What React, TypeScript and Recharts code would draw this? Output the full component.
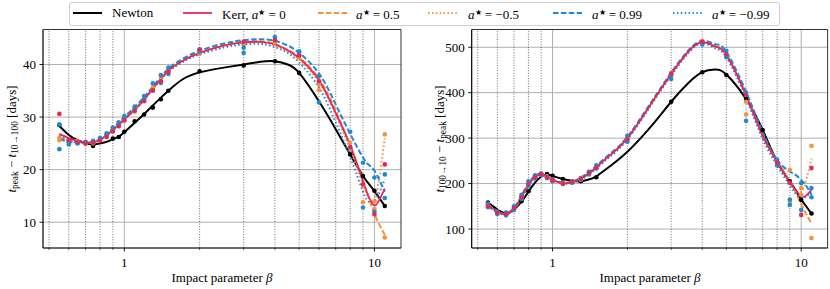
import React from "react"
import { ComposedChart, Line, Scatter, XAxis, YAxis, CartesianGrid, ReferenceLine } from "recharts"

// knots of the fitted curves (impact parameter beta)
const knotBeta = [0.55, 0.6, 0.65, 0.7, 0.75, 0.8, 0.85, 0.9, 0.95, 1.0, 1.1, 1.2, 1.3, 1.4, 1.5, 1.7, 2.0, 2.5, 3.0, 3.5, 4.0, 4.5, 5.0, 6.0, 7.0, 8.0, 9.0, 9.5, 10, 10.5, 11]
// beta of the simulated points (Kerr runs)
const pointBeta = [0.55, 0.6, 0.65, 0.7, 0.75, 0.8, 0.85, 0.9, 0.95, 1.0, 1.1, 1.2, 1.3, 1.4, 1.5, 2.0, 3.0, 4.0, 5.0, 6.0, 8.0, 9.0, 10, 11]
const newtonBetaL = [0.55, 0.75, 0.9, 0.95, 1.0, 1.1, 1.2, 1.3, 1.4, 1.5, 2.0, 3.0, 4.0, 5.0, 8.0, 9.0, 10, 11]
const newtonBetaR = [0.55, 0.65, 0.75, 0.8, 0.95, 1.0, 1.1, 1.3, 1.5, 3.0, 4.0, 5.0, 6.0, 7.0, 8.0, 9.0, 10, 11]

// left panel: t_peak - t_10->100 [days]
const riseNewtonLine = [28.3, 26.6, 25.6, 25.0, 24.8, 25.0, 25.3, 25.8, 26.3, 27.1, 28.9, 30.6, 32.2, 33.7, 35.0, 37.1, 38.5, 39.4, 40.0, 40.5, 40.6, 40.0, 38.4, 33.0, 27.7, 22.9, 18.8, 17.3, 15.9, 14.5, 13.1]
const riseKerr0Line = [26.8, 26.0, 25.5, 25.2, 25.2, 25.7, 26.5, 27.5, 28.5, 29.5, 31.4, 33.3, 35.4, 37.2, 38.8, 40.6, 42.2, 43.6, 44.2, 44.3, 43.8, 42.7, 41.2, 37.0, 30.8, 24.6, 17.8, 14.8, 13.2, 14.4, 16.4]
const riseKerrP05Line = [26.0, 25.6, 25.3, 25.1, 25.2, 25.7, 26.5, 27.5, 28.6, 29.6, 31.5, 33.4, 35.5, 37.3, 38.9, 40.7, 42.3, 43.7, 44.3, 44.4, 43.9, 42.8, 41.4, 37.3, 31.2, 24.6, 17.8, 14.5, 11.6, 9.4, 7.6]
const riseKerrM05Line = [26.4, 25.8, 25.4, 25.2, 25.2, 25.6, 26.4, 27.4, 28.4, 29.4, 31.3, 33.2, 35.3, 37.1, 38.7, 40.5, 42.1, 43.5, 44.1, 44.2, 43.6, 42.5, 41.0, 36.6, 30.4, 23.8, 17.2, 14.6, 14.2, 19.0, 26.0]
const riseKerrP99Line = [25.8, 25.3, 25.0, 25.0, 25.2, 25.8, 26.7, 27.8, 28.9, 30.0, 31.9, 33.8, 35.8, 37.6, 39.2, 41.0, 42.6, 44.0, 44.6, 44.8, 44.5, 43.6, 42.2, 38.3, 32.4, 26.8, 22.3, 20.9, 19.8, 17.9, 15.8]
const riseKerrM99Line = [26.5, 25.6, 25.2, 25.1, 25.3, 25.8, 26.6, 27.6, 28.6, 29.6, 31.5, 33.4, 35.4, 37.2, 38.7, 40.4, 41.9, 43.2, 43.8, 43.9, 43.3, 42.2, 40.4, 35.6, 29.0, 22.4, 15.8, 13.9, 14.0, 15.8, 18.2]

const riseNewtonPts = [28.5, 24.5, 25.9, 26.2, 27.2, 29.2, 30.5, 31.8, 33.4, 35.0, 38.7, 39.8, 40.6, 38.4, 22.9, 18.8, 16.0, 13.1]
const riseKerr0Pts = [30.6, 25.6, 25.3, 25.0, 25.1, 25.5, 26.2, 27.3, 28.3, 29.4, 31.2, 33.0, 35.1, 36.8, 38.6, 42.9, 44.3, 44.6, 41.7, 36.8, 24.3, 17.2, 11.5, 21.0]
const riseKerrP05Pts = [26.1, 25.2, 25.5, 24.9, 25.3, 25.8, 26.6, 27.6, 28.8, 29.8, 31.8, 33.5, 35.6, 37.9, 38.9, 42.5, 44.1, 44.5, 41.9, 35.1, 25.1, 13.8, 12.5, 7.1]
const riseKerrM05Pts = [25.6, 25.4, 25.0, 25.1, 25.0, 25.6, 26.3, 27.2, 28.2, 29.3, 31.0, 33.1, 35.3, 37.0, 38.5, 42.0, 43.8, 44.2, 41.2, 36.2, 24.0, 17.0, 14.0, 26.7]
const riseKerrP99Pts = [23.9, 24.8, 25.1, 25.3, 25.5, 26.0, 26.9, 28.0, 29.0, 30.2, 32.0, 34.0, 36.4, 38.0, 39.4, 42.8, 43.2, 45.2, 42.5, 37.8, 27.2, 21.3, 18.5, 19.1]
const riseKerrM99Pts = [28.6, 25.2, 25.0, 25.2, 25.4, 25.9, 26.7, 27.7, 28.6, 29.8, 31.5, 33.3, 35.0, 36.5, 38.2, 42.4, 42.2, 44.6, 42.3, 32.8, 24.2, 12.8, 12.0, 14.6]

// right panel: t_100->10 - t_peak [days]
const decayNewtonLine = [158, 143, 135, 143, 160, 182, 202, 215, 220, 217, 210, 206, 205, 209, 216, 238, 270, 327, 380, 420, 445, 451, 440, 386, 318, 248, 205, 185, 165, 149, 134]
const decayKerr0Line = [153, 138, 133, 145, 170, 198, 214, 220, 215, 208, 201, 203, 211, 222, 236, 262, 300, 377, 441, 489, 511, 502, 483, 394, 305, 248, 203, 186, 172, 174, 186]
const decayKerrP05Line = [154, 137, 134, 146, 171, 199, 215, 221, 216, 209, 202, 204, 212, 223, 237, 263, 301, 378, 442, 490, 512, 503, 484, 396, 307, 250, 205, 180, 155, 132, 112]
const decayKerrM05Line = [152, 138, 133, 144, 169, 197, 213, 219, 214, 207, 200, 202, 210, 221, 235, 261, 299, 376, 440, 488, 510, 500, 481, 391, 302, 245, 200, 185, 182, 210, 255]
const decayKerrP99Line = [151, 136, 134, 147, 173, 201, 217, 222, 216, 208, 201, 204, 213, 225, 239, 265, 303, 380, 444, 492, 514, 507, 490, 402, 313, 252, 226, 219, 208, 194, 175]
const decayKerrM99Line = [155, 139, 132, 142, 167, 195, 212, 219, 215, 208, 201, 202, 209, 220, 233, 259, 297, 374, 438, 486, 509, 498, 478, 388, 298, 240, 195, 178, 168, 172, 180]

const decayNewtonPts = [158, 135, 161, 183, 221, 217, 210, 205, 214, 380, 445, 439, 386, 318, 248, 205, 164, 134]
const decayKerr0Pts = [150, 136, 133, 146, 170, 199, 214, 221, 214, 207, 200, 204, 210, 223, 235, 298, 442, 512, 484, 395, 246, 202, 131, 234]
const decayKerrP05Pts = [152, 134, 134, 144, 168, 197, 216, 219, 216, 209, 202, 202, 212, 221, 237, 300, 440, 514, 480, 352, 250, 230, 190, 80]
const decayKerrM05Pts = [155, 137, 131, 147, 171, 200, 213, 222, 213, 206, 199, 205, 209, 224, 234, 296, 443, 510, 486, 380, 244, 160, 175, 283]
const decayKerrP99Pts = [148, 133, 136, 150, 175, 205, 218, 222, 212, 205, 199, 205, 212, 226, 240, 305, 438, 510, 492, 400, 253, 153, 201, 170]
const decayKerrM99Pts = [156, 139, 130, 142, 166, 195, 211, 219, 215, 208, 201, 202, 208, 220, 233, 292, 430, 506, 478, 338, 240, 165, 142, 190]

const xMajor = [1, 10]
const xMinor = [0.5, 0.6, 0.7, 0.8, 0.9, 2, 3, 4, 5, 6, 7, 8, 9]
const xTicks = [0.5, 0.6, 0.7, 0.8, 0.9, 1, 2, 3, 4, 5, 6, 7, 8, 9, 10]
const X_DOMAIN: [number, number] = [0.473, 12.77]

const RED = "#e6265a"
const ORANGE = "#f7923c"
const BLUE = "#2089d6"
const FONT = "'Liberation Serif', 'Times New Roman', Times, serif"

type Style = { name: string; color: string; dash?: string; width: number }
const styles: Style[] = [
  { name: "Newton", color: "#000", width: 2 },
  { name: "kerr0", color: RED, width: 1.8 },
  { name: "p05", color: ORANGE, dash: "5.5 2.4", width: 2 },
  { name: "m05", color: ORANGE, dash: "1.5 2.4", width: 2 },
  { name: "p99", color: BLUE, dash: "5.5 2.4", width: 2 },
  { name: "m99", color: BLUE, dash: "1.5 2.4", width: 2 },
]

const zip = (bs: number[], vs: number[]) => bs.map((b, i) => ({ b, v: vs[i] }))

function BetaTick(props: any) {
  const { x, y, payload } = props
  const major = xMajor.includes(payload.value)
  return (
    <g>
      <line x1={x} x2={x} y1={y} y2={y + (major ? 3.5 : 2)} stroke="#000" strokeWidth={major ? 0.9 : 0.6} />
      {major && (
        <text x={x} y={y + 18.5} textAnchor="middle" fontSize={13} fontFamily={FONT} fill="#000">
          {payload.value}
        </text>
      )}
    </g>
  )
}

type PanelProps = {
  left: number
  yWidth: number
  right: number
  yDomain: [number, number]
  yTicks: number[]
  lines: number[][] // same order as styles
  points: number[][] // kerr series only
  newtonBeta: number[]
  newtonPts: number[]
}

function Panel({ left, yWidth, right, yDomain, yTicks, lines, points, newtonBeta, newtonPts }: PanelProps) {
  // draw order: Newton, the four spins, then Kerr a*=0 on top
  const order = [0, 2, 3, 4, 5, 1]
  return (
    <div style={{ position: "absolute", left, top: 0 }}>
      <ComposedChart width={415} height={289} margin={{ top: 29.5, right, bottom: 21, left: 0 }}>
        <CartesianGrid vertical={false} stroke="#b0b0b0" strokeWidth={1} />
        {xMinor.map((b) => (
          <ReferenceLine key={"m" + b} x={b} stroke="#333" strokeWidth={0.7} strokeDasharray="1 1.6" />
        ))}
        {xMajor.map((b) => (
          <ReferenceLine key={"M" + b} x={b} stroke="#b0b0b0" strokeWidth={1} />
        ))}
        <XAxis
          dataKey="b"
          type="number"
          scale="log"
          domain={X_DOMAIN}
          allowDataOverflow
          ticks={xTicks}
          interval={0}
          height={20}
          tickSize={0}
          tickMargin={0}
          tickLine={false}
          tick={<BetaTick />}
          axisLine={{ stroke: "#000", strokeWidth: 1.2 }}
        />
        <YAxis
          dataKey="v"
          type="number"
          domain={yDomain}
          allowDataOverflow
          ticks={yTicks}
          width={yWidth}
          tickSize={3.5}
          tickMargin={3.5}
          tickLine={{ stroke: "#000", strokeWidth: 0.9 }}
          axisLine={{ stroke: "#000", strokeWidth: 1.2 }}
          tick={{ fontSize: 13, fontFamily: FONT, fill: "#000" }}
        />
        {order.map((i) => (
          <Line
            key={"l" + i}
            data={zip(knotBeta, lines[i])}
            dataKey="v"
            type="natural"
            stroke={styles[i].color}
            strokeWidth={styles[i].width}
            strokeDasharray={styles[i].dash}
            dot={false}
            activeDot={false}
            isAnimationActive={false}
          />
        ))}
        <Scatter
          data={zip(newtonBeta, newtonPts)}
          dataKey="v"
          fill="#000"
          shape={(p: any) => <circle cx={p.cx} cy={p.cy} r={2.3} fill="#000" />}
          isAnimationActive={false}
        />
        {[2, 3, 4, 5, 1].map((i) => (
          <Scatter
            key={"s" + i}
            data={zip(pointBeta, points[i - 1])}
            dataKey="v"
            fill={styles[i].color}
            shape={(p: any) => <circle cx={p.cx} cy={p.cy} r={2.3} fill={styles[i].color} />}
            isAnimationActive={false}
          />
        ))}
        <ReferenceLine y={yDomain[1]} stroke="#333" strokeWidth={1} />
        <ReferenceLine x={X_DOMAIN[1]} stroke="#333" strokeWidth={1} />
      </ComposedChart>
    </div>
  )
}

const sub = { fontSize: "0.72em", fontStyle: "normal", verticalAlign: "-0.3em" } as const
const sup = { fontSize: "0.6em", verticalAlign: "0.55em" } as const

function AStar() {
  return (
    <span>
      <i>a</i>
      <span style={sup}>★</span>
    </span>
  )
}

const legendItems = [
  { swatch: 73, text: 112, label: <span>Newton</span>, style: 0 },
  { swatch: 183, text: 222, label: <span>Kerr, <AStar /> = 0</span>, style: 1 },
  { swatch: 318, text: 356, label: <span><AStar /> = 0.5</span>, style: 2 },
  { swatch: 428, text: 468, label: <span><AStar /> = −0.5</span>, style: 3 },
  { swatch: 553, text: 592, label: <span><AStar /> = 0.99</span>, style: 4 },
  { swatch: 673, text: 712, label: <span><AStar /> = −0.99</span>, style: 5 },
]

export default function App() {
  return (
    <div style={{ position: "absolute", left: 0, top: 0, width: 830, height: 289, background: "#fff", fontFamily: FONT, color: "#000" }}>
      <Panel
        left={0}
        yWidth={43}
        right={14}
        yDomain={[5.1, 46.65]}
        yTicks={[10, 20, 30, 40]}
        lines={[riseNewtonLine, riseKerr0Line, riseKerrP05Line, riseKerrM05Line, riseKerrP99Line, riseKerrM99Line]}
        points={[riseKerr0Pts, riseKerrP05Pts, riseKerrM05Pts, riseKerrP99Pts, riseKerrM99Pts]}
        newtonBeta={newtonBetaL}
        newtonPts={riseNewtonPts}
      />
      <Panel
        left={415}
        yWidth={56.7}
        right={2.4}
        yDomain={[58.2, 539]}
        yTicks={[100, 200, 300, 400, 500]}
        lines={[decayNewtonLine, decayKerr0Line, decayKerrP05Line, decayKerrM05Line, decayKerrP99Line, decayKerrM99Line]}
        points={[decayKerr0Pts, decayKerrP05Pts, decayKerrM05Pts, decayKerrP99Pts, decayKerrM99Pts]}
        newtonBeta={newtonBetaR}
        newtonPts={decayNewtonPts}
      />

      {/* axis titles */}
      <div style={{ position: "absolute", left: 222, top: 283, transform: "translate(-50%, -80%)", fontSize: 13, whiteSpace: "nowrap" }}>
        Impact parameter <i>β</i>
      </div>
      <div style={{ position: "absolute", left: 650, top: 283, transform: "translate(-50%, -80%)", fontSize: 13, whiteSpace: "nowrap" }}>
        Impact parameter <i>β</i>
      </div>
      <div style={{ position: "absolute", left: 12, top: 139, transform: "translate(-50%, -50%) rotate(-90deg)", fontSize: 13, whiteSpace: "nowrap" }}>
        <i>t</i><span style={sub}>peak</span> − <i>t</i><span style={sub}>10→100</span> [days]
      </div>
      <div style={{ position: "absolute", left: 440, top: 139, transform: "translate(-50%, -50%) rotate(-90deg)", fontSize: 13, whiteSpace: "nowrap" }}>
        <i>t</i><span style={sub}>100→10</span> − <i>t</i><span style={sub}>peak</span> [days]
      </div>

      {/* legend */}
      <div style={{ position: "absolute", left: 69, top: 2, width: 709, height: 22, border: "1px solid #d0d0d0", borderRadius: 3, background: "rgba(255,255,255,0.85)" }} />
      {legendItems.map((it) => {
        const s = styles[it.style]
        return (
          <React.Fragment key={it.swatch}>
            <svg style={{ position: "absolute", left: it.swatch, top: 9 }} width={30} height={8}>
              <line x1={0} x2={29} y1={4} y2={4} stroke={s.color} strokeWidth={s.width} strokeDasharray={s.dash} />
            </svg>
            <div style={{ position: "absolute", left: it.text, top: 4, fontSize: 13, lineHeight: "18px", whiteSpace: "nowrap" }}>
              {it.label}
            </div>
          </React.Fragment>
        )
      })}
    </div>
  )
}
